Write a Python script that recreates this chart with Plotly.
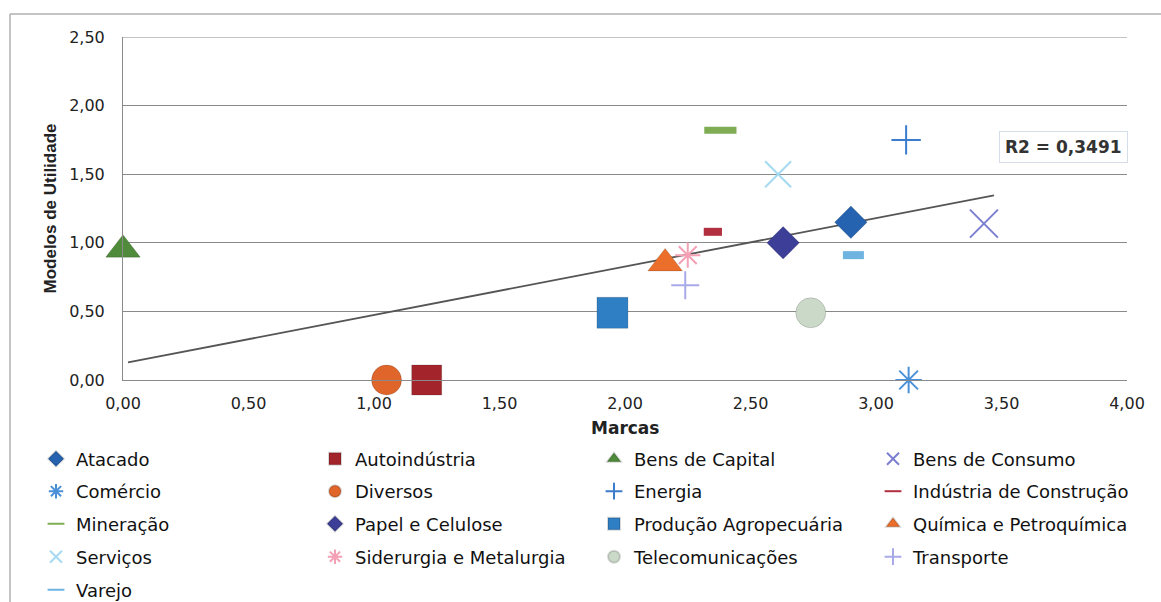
import plotly.graph_objects as go

# Sector data: brands score (x) against utility-model score (y)
sectors = [
    "Atacado", "Autoindústria", "Bens de Capital", "Bens de Consumo",
    "Comércio", "Diversos", "Energia", "Indústria de Construção",
    "Mineração", "Papel e Celulose", "Produção Agropecuária", "Química e Petroquímica",
    "Serviços", "Siderurgia e Metalurgia", "Telecomunicações", "Transporte",
    "Varejo",
]
marcas = [2.90, 1.21, 0.00, 3.43,
          3.13, 1.05, 3.12, 2.35,
          2.38, 2.63, 1.95, 2.16,
          2.61, 2.25, 2.74, 2.24,
          2.91]
modelos = [1.15, 0.00, 0.95, 1.14,
           0.00, 0.00, 1.75, 1.08,
           1.82, 1.00, 0.49, 0.85,
           1.50, 0.91, 0.49, 0.69,
           0.91]

# Linear trendline shown on the chart
trend_x = [0.02, 3.47]
trend_slope = 0.353
trend_intercept = 0.121
r2_text = "R2 = 0,3491"

x_ticks = [0, 0.5, 1, 1.5, 2, 2.5, 3, 3.5, 4]
y_ticks = [0, 0.5, 1, 1.5, 2, 2.5]

# Marker style per sector: (symbol, size, colour, line width)
styles = {
    "Atacado": ("diamond", 25, "#2563B0", 0),
    "Autoindústria": ("square", 30, "#A3252B", 0),
    "Bens de Capital": ("triangle-up", 30, "#4F8B3B", 0),
    "Bens de Consumo": ("x-thin-open", 28, "#7B7FD0", 2),
    "Comércio": ("asterisk-open", 22, "#4A90D9", 2),
    "Diversos": ("circle", 30, "#E0652A", 0),
    "Energia": ("cross-thin-open", 21, "#3C7CCC", 2),
    "Indústria de Construção": ("line-ew-open", 13, "#B03040", 8),
    "Mineração": ("line-ew-open", 23, "#7EAD54", 7),
    "Papel e Celulose": ("diamond", 25, "#3C3E98", 0),
    "Produção Agropecuária": ("square", 31, "#2F7FC5", 0),
    "Química e Petroquímica": ("triangle-up", 30, "#EB6F2B", 0),
    "Serviços": ("x-thin-open", 26, "#A6DAF0", 2),
    "Siderurgia e Metalurgia": ("asterisk-open", 21, "#F4A0B5", 2),
    "Telecomunicações": ("circle", 30, "#CBD9C9", 0),
    "Transporte": ("cross-thin-open", 20, "#A9A9EA", 2),
    "Varejo": ("line-ew-open", 15, "#6FB3E0", 8),
}

W, H = 1161, 602
L, R, T, B = 123, 34, 37, 222
plot_w = W - L - R
plot_h = H - T - B


def px_x(px):
    return (px - L) / plot_w


def px_y(py):
    return (H - B - py) / plot_h


fig = go.Figure()

# trendline
trend_y = [trend_intercept + trend_slope * v for v in trend_x]
fig.add_trace(go.Scatter(
    x=trend_x, y=trend_y, mode="lines",
    line=dict(color="#555555", width=1.8),
    showlegend=False, hoverinfo="skip",
))

legend_names = ["legend", "legend2", "legend3", "legend4", "legend5"]
for i, name in enumerate(sectors):
    sym, size, color, lw = styles[name]
    if lw > 0:
        marker = dict(symbol=sym, size=size, color=color,
                      line=dict(color=color, width=lw))
    else:
        marker = dict(symbol=sym, size=size, color=color,
                      line=dict(color="rgba(0,0,0,0.15)", width=1))
    fig.add_trace(go.Scatter(
        x=[marcas[i]], y=[modelos[i]], mode="markers", name=name,
        marker=marker, cliponaxis=False,
        legend=legend_names[i // 4],
    ))

font_main = "DejaVu Sans"
row_centers = [459, 491.5, 524, 557, 590]
legend_cfg = dict(
    orientation="h", entrywidth=234, entrywidthmode="pixels",
    x=px_x(36), xanchor="left", yanchor="middle",
    font=dict(family=font_main, size=18, color="#111111"),
    bgcolor="rgba(0,0,0,0)", borderwidth=0,
    itemwidth=30, itemsizing="constant",
)
legend_layout = {}
for k, ln in enumerate(legend_names):
    cfg = dict(legend_cfg)
    cfg["y"] = px_y(row_centers[k])
    legend_layout[ln] = cfg

fig.update_layout(
    width=W, height=H,
    margin=dict(l=L, r=R, t=T, b=B, autoexpand=False),
    paper_bgcolor="white", plot_bgcolor="white",
    separators=", ",
    showlegend=True,
    font=dict(family=font_main, size=16, color="#222222"),
    xaxis=dict(
        range=[0, 4], tickvals=x_ticks, tickformat=".2f",
        showgrid=False, zeroline=False,
        showline=True, linecolor="#8a8a8a", linewidth=1,
        ticks="", ticklabelstandoff=9,
        tickfont=dict(family=font_main, size=16, color="#222222"),
    ),
    yaxis=dict(
        range=[0, 2.5], tickvals=y_ticks, tickformat=".2f",
        showgrid=True, gridcolor="#8a8a8a", gridwidth=1,
        zeroline=False,
        showline=True, linecolor="#8a8a8a", linewidth=1,
        ticks="", ticklabelstandoff=14,
        tickfont=dict(family=font_main, size=16, color="#222222"),
    ),
    **legend_layout,
)

# gridline at the top of the value axis
fig.add_shape(
    type="line", xref="paper", yref="y",
    x0=0, x1=1, y0=y_ticks[-1], y1=y_ticks[-1],
    line=dict(color="#8a8a8a", width=1), layer="below",
)

# outer chart frame
fig.add_shape(
    type="rect", xref="paper", yref="paper",
    x0=px_x(10), x1=px_x(1175), y0=px_y(640), y1=px_y(14),
    line=dict(color="#8a8a8a", width=1), fillcolor="rgba(0,0,0,0)",
    layer="below",
)

# axis titles
fig.add_annotation(
    text="<b>Marcas</b>", xref="paper", yref="paper",
    x=0.5, y=px_y(428), xanchor="center", yanchor="middle",
    showarrow=False, font=dict(family=font_main, size=17, color="#222222"),
)
fig.add_annotation(
    text="<b>Modelos de Utilidade</b>", xref="paper", yref="paper",
    x=px_x(50), y=0.5, xanchor="center", yanchor="middle", textangle=-90,
    showarrow=False,
    font=dict(family="Liberation Sans", size=17, color="#222222"),
)

# R² label of the trendline
fig.add_annotation(
    text="<b>" + r2_text + "</b>", xref="x", yref="y",
    x=3.745, y=1.70, xanchor="center", yanchor="middle",
    showarrow=False, bgcolor="white",
    bordercolor="#D5DEE8", borderwidth=1, borderpad=5,
    font=dict(family=font_main, size=17, color="#333333"),
)

fig.write_html("out.html")
